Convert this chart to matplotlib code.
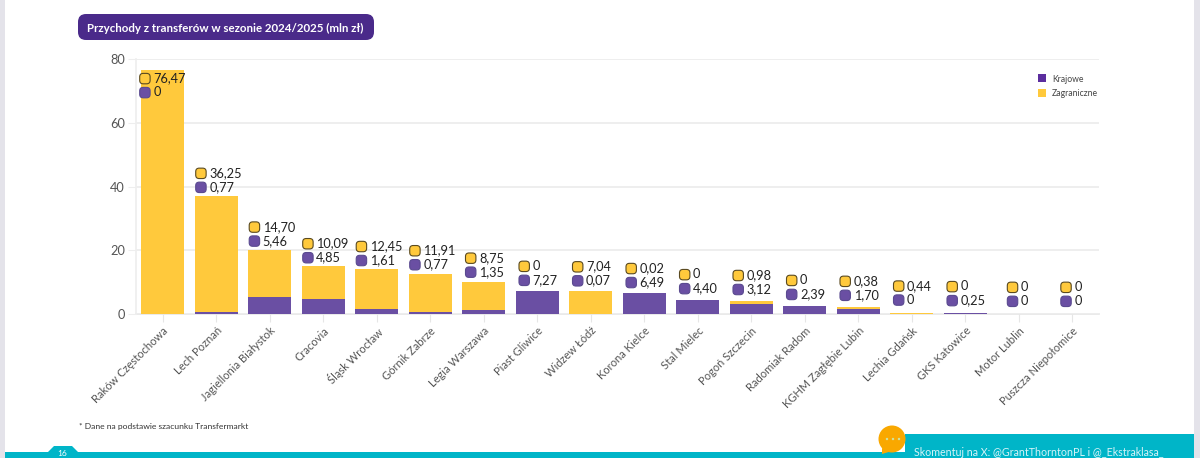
import matplotlib
matplotlib.use("Agg")
import matplotlib.pyplot as plt
from matplotlib.offsetbox import AnnotationBbox, DrawingArea
from matplotlib.patches import FancyBboxPatch, Rectangle, Circle, Polygon
from matplotlib.transforms import ScaledTranslation

clubs = ["Raków Częstochowa", "Lech Poznań", "Jagiellonia Białystok", "Cracovia",
         "Śląsk Wrocław", "Górnik Zabrze", "Legia Warszawa", "Piast Gliwice",
         "Widzew Łódź", "Korona Kielce", "Stal Mielec", "Pogoń Szczecin",
         "Radomiak Radom", "KGHM Zagłębie Lubin", "Lechia Gdańsk", "GKS Katowice",
         "Motor Lublin", "Puszcza Niepołomice"]
foreign = [76.47, 36.25, 14.70, 10.09, 12.45, 11.91, 8.75, 0, 7.04, 0.02, 0, 0.98,
           0, 0.38, 0.44, 0, 0, 0]
domestic = [0, 0.77, 5.46, 4.85, 1.61, 0.77, 1.35, 7.27, 0.07, 6.49, 4.40, 3.12,
            2.39, 1.70, 0, 0.25, 0, 0]
y_ticks = [0, 20, 40, 60, 80]

YELLOW = "#FFC93C"
PURPLE = "#6A4FA3"
DARK = "#4A2A8A"
TEAL = "#00B5C8"
W, H = 1200, 458


def fmt(v):
    if v == 0:
        return "0"
    return f"{v:.2f}".replace(".", ",")


def icon(ax, i, top, dx, dy, color, edge):
    # small rounded square next to a value label
    da = DrawingArea(11, 11, 0, 0)
    da.add_artist(FancyBboxPatch((1.5, 1.5), 7.5, 7.5, boxstyle="round,pad=0,rounding_size=2.5",
                                 fc=color, ec=edge, lw=0.8))
    ab = AnnotationBbox(da, (i, top), xybox=(dx, dy), xycoords="data",
                        boxcoords="offset pixels", frameon=False, pad=0, zorder=5)
    ax.add_artist(ab)


def label(ax, i, top, dx, dy, text):
    ax.annotate(text, (i, top), xytext=(dx, dy), textcoords="offset pixels",
                ha="left", va="center", fontsize=9.2, color="#222222", zorder=5)


def main():
    plt.rcParams["font.family"] = ["Lato", "DejaVu Sans"]
    fig = plt.figure(figsize=(W / 100, H / 100), dpi=100, facecolor="white")

    # page decoration in pixel coordinates
    bg = fig.add_axes([0, 0, 1, 1])
    bg.set_xlim(0, W)
    bg.set_ylim(H, 0)
    bg.axis("off")
    bg.add_patch(Rectangle((0, 0), 5, H, fc="#E4E3EA", ec="none"))
    bg.add_patch(Rectangle((1194, 0), 6, H, fc="#E4E3EA", ec="none"))
    bg.add_patch(Rectangle((5, 452), 1189, 6, fc=TEAL, ec="none"))
    bg.add_patch(Rectangle((905, 434), 289, 24, fc=TEAL, ec="none"))
    bg.add_patch(Polygon([(48, 452), (54, 446), (72, 446), (78, 452)], fc=TEAL, ec="none"))
    bg.text(62, 454, "16", color="white", fontsize=6, ha="center", va="center")
    bg.add_patch(FancyBboxPatch((78, 14), 296, 26, boxstyle="round,pad=0,rounding_size=8",
                                fc=DARK, ec="none"))
    bg.text(87, 28, "Przychody z transferów w sezonie 2024/2025 (mln zł)",
            color="white", fontsize=8.3, fontweight="bold", va="center")
    bg.text(79, 426, "* Dane na podstawie szacunku Transfermarkt", color="#333333",
            fontsize=6.1, va="center")
    bg.add_patch(Circle((892, 439), 13.5, fc="#F9A800", ec="none", zorder=3))
    bg.add_patch(Polygon([(882, 448), (882, 454), (892, 451)], fc="#F9A800", ec="none", zorder=3))
    for dot_x in [887, 893, 899]:
        bg.add_patch(Circle((dot_x, 439), 1.2, fc="#CFE3A0", ec="none", zorder=4))
    bg.text(914, 452, "Skomentuj na X: @GrantThorntonPL i @_Ekstraklasa_", color="#D6F4F8",
            fontsize=7.7, va="center")

    ax = fig.add_axes([136 / W, 1 - 314 / H, 963 / W, 255 / H])
    ax.patch.set_alpha(0)
    x = list(range(len(clubs)))
    ax.bar(x, domestic, width=0.8, color=PURPLE, label="Krajowe", zorder=3)
    ax.bar(x, foreign, width=0.8, bottom=domestic, color=YELLOW, label="Zagraniczne", zorder=3)

    ax.set_xlim(-0.5, 17.5)
    ax.set_ylim(0, 80)
    ax.set_yticks(y_ticks)
    ax.set_xticks(x)
    ax.set_xticklabels(clubs, rotation=45, ha="right", va="top", rotation_mode="anchor",
                       fontsize=8.0, color="#555555")
    shift = ScaledTranslation(7 / 100, 5 / 100, fig.dpi_scale_trans)
    for tick_label in ax.get_xticklabels():
        tick_label.set_transform(tick_label.get_transform() + shift)
    ax.tick_params(axis="y", length=6, color="#EEEEEE", labelsize=9.2, labelcolor="#555555", pad=2)
    ax.tick_params(axis="x", length=6, color="#E6E6E6", pad=2)
    ax.grid(axis="y", color="#EEEEEE", lw=1.4, zorder=0)
    for side in ["top", "right"]:
        ax.spines[side].set_visible(False)
    ax.spines["left"].set_color("#EEEEEE")
    ax.spines["bottom"].set_color("#E6E6E6")
    ax.spines["left"].set_linewidth(1.2)
    ax.spines["bottom"].set_linewidth(1.2)
    ax.spines["bottom"].set_zorder(1)

    # value labels above each stack, first club has them inside the bar
    for i in x:
        top = foreign[i] + domestic[i]
        hi = 27 - min(4, top * 0.3)
        # the icon and text group sits roughly centred on the bar
        chars = max(len(fmt(foreign[i])), len(fmt(domestic[i])))
        icon_x = -(0.367 * 6.2 * chars + 8.6) + 5
        if i == 0:
            hi = -8
            icon_x = -17.5
        lo = hi - 14
        text_x = icon_x + 8
        icon(ax, i, top, icon_x, hi, YELLOW, "#5A4A20")
        icon(ax, i, top, icon_x, lo, PURPLE, "#5A4A90")
        label(ax, i, top, text_x, hi, fmt(foreign[i]))
        label(ax, i, top, text_x, lo, fmt(domestic[i]))

    # legend
    bg.add_patch(Rectangle((1038, 74), 8, 8, fc="#5B2D9E", ec="none"))
    bg.add_patch(Rectangle((1038, 89), 8, 8, fc=YELLOW, ec="none"))
    bg.text(1052, 79, "Krajowe", color="#444444", fontsize=6.2, va="center")
    bg.text(1052, 93.5, "Zagraniczne", color="#444444", fontsize=6.2, va="center")

    fig.savefig("out.png", dpi=100)


if __name__ == "__main__":
    main()
